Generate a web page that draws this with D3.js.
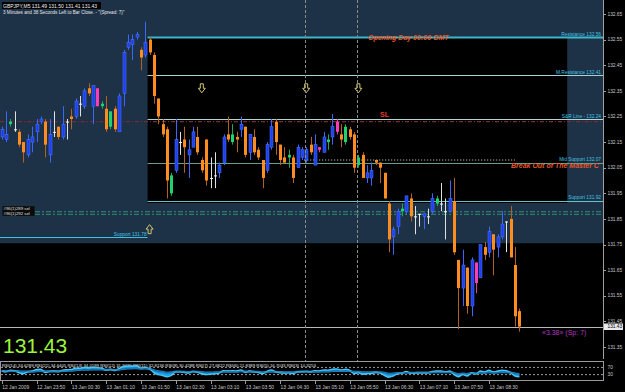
<!DOCTYPE html>
<html>
<head>
<meta charset="utf-8">
<script src="https://cdnjs.cloudflare.com/ajax/libs/d3/7.8.5/d3.min.js"></script>
<style>
body { margin: 0; background: #000; }
svg { display: block; font-family: "Liberation Sans", Arial, sans-serif; }
</style>
</head>
<body>
<div id="chart"></div>
<script>
// GBPJPY M5 candles (bar 0 = 12 Jan 23:10)
var opens = [132.17,132.16,132.22,132.20,132.19,132.15,132.10,132.15,132.19,132.23,
  132.23,132.10,132.19,132.21,132.17,132.23,132.25,132.25,132.30,132.29,
  132.36,132.29,132.29,132.29,132.28,132.21,132.28,132.19,132.34,132.52,
  132.53,132.56,132.51,132.49,132.55,132.49,132.32,132.22,132.20,131.95,
  132.04,132.15,132.16,132.10,132.13,132.17,132.08,132.16,132.01,132.02,
  132.03,132.07,132.18,132.15,132.17,132.20,132.21,132.11,132.17,132.12,
  132.08,132.04,132.13,132.23,132.14,132.09,132.09,132.09,132.05,132.09,
  132.08,132.14,132.06,132.12,132.11,132.15,132.17,132.19,132.18,132.15,
  132.20,132.18,132.06,132.10,132.01,132.01,132.08,132.07,132.03,131.91,
  131.78,131.82,131.88,131.88,131.93,131.86,131.87,131.86,131.86,131.88,
  131.91,131.91,131.88,131.88,131.92,131.69,131.58,131.66,131.51,131.68,
  131.62,131.74,131.72,131.79,131.74,131.78,131.84,131.85,131.67,131.49];
var highs = [132.21,132.27,132.24,132.27,132.20,132.15,132.18,132.21,132.24,132.25,
  132.24,132.24,132.27,132.21,132.29,132.24,132.28,132.32,132.33,132.36,
  132.38,132.37,132.36,132.31,132.33,132.27,132.29,132.34,132.51,132.57,
  132.57,132.58,132.52,132.62,132.56,132.50,132.32,132.24,132.21,132.03,
  132.24,132.19,132.21,132.16,132.21,132.21,132.09,132.16,132.09,132.11,
  132.07,132.18,132.25,132.22,132.19,132.25,132.21,132.18,132.20,132.13,
  132.08,132.15,132.24,132.24,132.14,132.13,132.12,132.10,132.14,132.13,
  132.13,132.17,132.18,132.13,132.19,132.18,132.26,132.24,132.22,132.22,
  132.21,132.19,132.10,132.11,132.06,132.07,132.08,132.07,132.03,131.92,
  131.82,131.89,131.91,131.94,131.95,131.90,131.87,131.87,131.89,131.95,
  131.94,131.99,131.93,132.00,132.01,131.69,131.73,131.66,131.70,131.68,
  131.75,131.76,131.82,131.79,131.79,131.88,131.84,131.90,131.74,131.50];
var lows = [132.16,132.15,132.21,132.19,132.13,132.07,132.09,132.11,132.15,132.22,
  132.09,132.07,132.17,132.16,132.16,132.16,132.20,132.24,132.25,132.28,
  132.33,132.22,132.29,132.28,132.19,132.20,132.19,132.19,132.29,132.51,
  132.47,132.55,132.43,132.48,132.49,132.30,132.22,132.17,131.93,131.94,
  132.03,132.10,132.03,132.01,132.13,132.10,132.03,131.98,131.97,131.97,
  132.01,132.06,132.15,132.14,132.11,132.17,132.09,132.08,132.10,132.08,
  131.97,132.03,132.12,132.10,132.06,132.07,132.05,131.99,132.05,132.08,
  132.07,132.10,132.06,132.11,132.11,132.12,132.14,132.18,132.13,132.14,
  132.16,132.03,132.05,132.01,131.99,131.98,132.06,131.99,131.93,131.72,
  131.71,131.79,131.86,131.87,131.84,131.79,131.82,131.81,131.83,131.87,
  131.90,131.88,131.77,131.88,131.71,131.42,131.51,131.48,131.47,131.56,
  131.62,131.69,131.70,131.63,131.70,131.77,131.72,131.70,131.43,131.41];
var closes = [132.20,132.18,132.23,132.20,132.14,132.11,132.16,132.17,132.22,132.24,
  132.14,132.18,132.19,132.17,132.22,132.23,132.24,132.31,132.30,132.35,
  132.34,132.37,132.36,132.30,132.20,132.27,132.20,132.33,132.50,132.54,
  132.55,132.57,132.48,132.54,132.50,132.33,132.25,132.18,132.00,132.02,
  132.16,132.15,132.13,132.12,132.19,132.11,132.04,132.00,132.01,132.02,
  132.06,132.17,132.16,132.18,132.16,132.22,132.10,132.18,132.11,132.09,
  132.01,132.14,132.21,132.15,132.08,132.07,132.10,132.01,132.13,132.12,
  132.12,132.11,132.14,132.13,132.17,132.16,132.21,132.23,132.16,132.21,
  132.17,132.05,132.09,132.01,132.03,132.04,132.07,132.05,131.93,131.77,
  131.81,131.88,131.89,131.94,131.86,131.86,131.87,131.87,131.86,131.93,
  131.93,131.91,131.88,131.93,131.72,131.58,131.67,131.51,131.69,131.60,
  131.75,131.71,131.80,131.73,131.78,131.83,131.84,131.70,131.47,131.43];
// bars painted green / magenta by the signal indicator
var greenBars = [2,23,25,39,53,66,75,79,82,92,100];
var pinkBars = [22,73,77,109];

// RSI sub-window (fast and slow lines)
var rsiFast = [50,45,55,52,40,35,45,50,58,60, 42,48,50,47,55,57,58,66,65,70,
  68,70,69,66,55,60,52,65,75,78, 78,79,65,70,62,40,30,25,18,25,
  45,45,42,38,48,42,35,30,32,34, 38,52,50,52,50,56,42,50,45,42,
  35,48,56,45,40,38,40,35,46,48, 48,46,52,50,56,55,60,62,56,60,
  55,35,40,32,35,36,42,38,25,15, 22,35,38,48,38,38,40,40,40,48,
  50,50,45,50,30,18,30,22,40,33, 50,45,55,45,50,55,52,40,22,18];
var rsiSlow = [50,49,50,50,48,46,46,47,49,50, 48,48,48,48,50,51,52,55,56,58,
  58,59,59,59,56,57,55,58,62,64, 65,66,63,64,62,54,48,45,40,42,
  46,46,45,44,46,45,43,41,41,42, 43,47,47,47,47,49,46,47,46,45,
  43,45,47,45,44,43,43,42,45,45, 46,45,47,47,48,48,50,51,50,51,
  50,45,45,43,43,43,44,43,40,34, 35,38,39,42,40,40,41,41,41,43,
  44,44,43,44,39,33,36,33,38,37, 41,40,43,41,42,44,44,41,35,33];
var rsiLevels = [70, 30];

// horizontal levels drawn by the pivot indicator
var levelNames = ["Resistance", "M.Resistance", "S&R Line -", "Mid Support", "Support"];
var levelValues = [132.56, 132.41, 132.24, 132.07, 131.92];
var prevSupport = 131.78;
var slLevel = 132.23;
var breakLevel = 132.08;
var zoneBottom = 131.755;
var orderPrices = [131.878, 131.868];
var orderNames = ["#96(1)289 sel", "#96(1)292 sel"];
var downArrows = [46, 70, 82];
var upArrows = [34];
var sessionBars = [70, 82];

// axis labels
var priceTicks = [132.65,132.55,132.45,132.35,132.25,132.15,132.05,131.95,131.85,131.75,131.65,131.55,131.45,131.35];
var timeLabels = ["12 Jan 2009","12 Jan 23:50","13 Jan 00:30","13 Jan 01:10","13 Jan 01:50","13 Jan 02:30",
  "13 Jan 03:10","13 Jan 03:50","13 Jan 04:30","13 Jan 05:10","13 Jan 05:50","13 Jan 06:30",
  "13 Jan 07:10","13 Jan 07:50","13 Jan 08:30"];
var lastPrice = 131.43;

var width = 625, height = 392, plotRight = 603;

var svg = d3.select("#chart").append("svg")
    .attr("width", width)
    .attr("height", height);

svg.append("rect").attr("width", width).attr("height", height).attr("fill", "#000");

var x = d3.scaleLinear().domain([0, 119]).range([1.7, 519.35]);
var y = d3.scaleLinear().domain([132.65, 131.35]).range([14, 347]);
var yRsi = d3.scaleLinear().domain([0, 100]).range([380, 362]);

svg.append("clipPath").attr("id", "plot")
  .append("rect").attr("x", 0).attr("y", 0).attr("width", plotRight).attr("height", 359);

var main = svg.append("g").attr("clip-path", "url(#plot)");

//zones: blue area with the black day box on top
var zoneLeft = x(34) - 2;
main.append("rect")
    .attr("x", 0).attr("y", 0)
    .attr("width", plotRight).attr("height", y(zoneBottom))
    .attr("fill", "#1d3147");
main.append("rect")
    .attr("x", zoneLeft).attr("y", y(levelValues[0]))
    .attr("width", x(130) - zoneLeft)
    .attr("height", y(levelValues[4]) - y(levelValues[0]) + 2)
    .attr("fill", "#000");

//level lines
var levelColors = ["#3cb8cc", "#a4d4d4", "#a8d8d8", "#6c9c8a", "#62c6c8"];
main.selectAll(".level")
    .data(levelValues)
    .enter().append("line")
    .attr("x1", zoneLeft).attr("x2", plotRight)
    .attr("y1", function(d){ return Math.round(y(d)) + 0.5; })
    .attr("y2", function(d){ return Math.round(y(d)) + 0.5; })
    .attr("stroke", function(d, i){ return levelColors[i]; })
    .attr("stroke-width", function(d, i){ return i == 0 ? 2 : 1; });

main.selectAll(".levelLabel")
    .data(levelValues)
    .enter().append("text")
    .attr("x", plotRight - 2)
    .attr("y", function(d){ return y(d) - 1.5; })
    .attr("text-anchor", "end")
    .attr("font-size", 4.8)
    .attr("fill", "#45c4e4")
    .text(function(d, i){ return levelNames[i] + " " + d.toFixed(2); });

main.append("line")
    .attr("x1", 0).attr("x2", zoneLeft)
    .attr("y1", Math.round(y(prevSupport)) + 0.5).attr("y2", Math.round(y(prevSupport)) + 0.5)
    .attr("stroke", "#3ec2e2");
main.append("text")
    .attr("x", zoneLeft - 1).attr("y", y(prevSupport) - 1)
    .attr("text-anchor", "end").attr("font-size", 4.8).attr("fill", "#45c4e4")
    .text("Support " + prevSupport.toFixed(2));

//SL line
main.append("line")
    .attr("x1", 0).attr("x2", plotRight)
    .attr("y1", y(slLevel)).attr("y2", y(slLevel))
    .attr("stroke", "#7e2a2a").attr("stroke-width", 1.3)
    .attr("stroke-dasharray", "4,2,1,2");

//order lines
orderPrices.forEach(function(p, k){
    main.append("line")
        .attr("x1", 35).attr("x2", plotRight)
        .attr("y1", y(p)).attr("y2", y(p))
        .attr("stroke", "#2f8f7a").attr("stroke-width", 1)
        .attr("stroke-dasharray", "5,2,2,2");
    main.append("rect")
        .attr("x", 2.5).attr("y", y(p) - 4.5 - (k == 0 ? 1 : -1))
        .attr("width", 32).attr("height", 5)
        .attr("fill", "#0a0a0a");
    main.append("text")
        .attr("x", 3.5).attr("y", y(p) - 0.5 - (k == 0 ? 1 : -1))
        .attr("font-size", 4.3).attr("fill", "#e0e0e0")
        .text(orderNames[k]);
});

//break-out dotted line
main.append("line")
    .attr("x1", x(70) - 2).attr("x2", x(118))
    .attr("y1", y(breakLevel)).attr("y2", y(breakLevel))
    .attr("stroke", "#d8d8d8").attr("stroke-dasharray", "1,2");

//current price line
main.append("line")
    .attr("x1", 0).attr("x2", plotRight)
    .attr("y1", Math.round(y(lastPrice)) + 0.5).attr("y2", Math.round(y(lastPrice)) + 0.5)
    .attr("stroke", "#b8b8b8");

//session lines
svg.selectAll(".session")
    .data(sessionBars)
    .enter().append("line")
    .attr("x1", function(d){ return Math.round(x(d)) - 0.5; })
    .attr("x2", function(d){ return Math.round(x(d)) - 0.5; })
    .attr("y1", 0).attr("y2", 381)
    .attr("stroke", "#8a8a8a")
    .attr("stroke-dasharray", "3,2");

//candles
var bars = opens.map(function(o, i){
    return {i: i, o: o, h: highs[i], l: lows[i], c: closes[i]};
});
function kind(d){
    if (greenBars.indexOf(d.i) >= 0) return "green";
    if (pinkBars.indexOf(d.i) >= 0) return "pink";
    if (d.c > d.o) return "up";
    if (d.c < d.o) return "down";
    return "doji";
}
var bodyFill = {up: "#1f3ff0", down: "#ff8c1e", doji: "#f4f4f4", green: "#1ed26c", pink: "#ff3cb8"};
var wickColor = {up: "#3a68ff", down: "#b4601e", doji: "#e0e0e0", green: "#1aa85a", pink: "#d8409c"};

var candles = main.selectAll(".candle")
    .data(bars)
    .enter().append("g");

candles.append("line")
    .attr("x1", function(d){ return Math.round(x(d.i)) + 0.5; })
    .attr("x2", function(d){ return Math.round(x(d.i)) + 0.5; })
    .attr("y1", function(d){ return y(d.h); })
    .attr("y2", function(d){ return y(d.l); })
    .attr("stroke", function(d){ return wickColor[kind(d)]; });

candles.append("rect")
    .attr("x", function(d){ return Math.round(x(d.i)) - 1; })
    .attr("width", 3)
    .attr("y", function(d){ return y(Math.max(d.o, d.c)); })
    .attr("height", function(d){ return Math.max(1, Math.abs(y(d.o) - y(d.c))); })
    .attr("fill", function(d){ return bodyFill[kind(d)]; })
    .attr("stroke", function(d){ return kind(d) == "up" ? "#4a78ff" : "none"; })
    .attr("stroke-width", 0.5);

//arrows
var downPath = "M-1.5,-4.5H1.5V0H3.5L0,4.5L-3.5,0H-1.5Z";
main.selectAll(".down")
    .data(downArrows)
    .enter().append("path")
    .attr("d", downPath)
    .attr("transform", function(d){ return "translate(" + x(d) + "," + y(132.36) + ")"; })
    .attr("fill", "none").attr("stroke", "#d6c870");
main.selectAll(".up")
    .data(upArrows)
    .enter().append("path")
    .attr("d", downPath)
    .attr("transform", function(d){ return "translate(" + x(d) + "," + y(131.81) + ") rotate(180)"; })
    .attr("fill", "none").attr("stroke", "#d6c870");

//annotations
main.append("text")
    .attr("x", 368).attr("y", 39.5)
    .attr("font-size", 7).attr("font-weight", "bold").attr("font-style", "italic")
    .attr("fill", "#e8582a")
    .text("Opening Day 00:00 GMT");
main.append("text")
    .attr("x", 380).attr("y", 117)
    .attr("font-size", 7).attr("font-weight", "bold")
    .attr("fill", "#e8382a")
    .text("SL");
// only the part left of the price axis shows
main.append("text")
    .attr("x", 511).attr("y", 168)
    .attr("font-size", 7).attr("font-weight", "bold").attr("font-style", "italic")
    .attr("fill", "#e8582a")
    .text("Break Out of The Master C");
main.append("text")
    .attr("x", 542).attr("y", 335)
    .attr("font-size", 7)
    .attr("fill", "#b438c4")
    .text("\u00ab3.38\u00bb (Sp: 7)");

main.append("text")
    .attr("x", 3).attr("y", 353)
    .attr("font-size", 21)
    .attr("fill", "#9cf43c")
    .text(lastPrice.toFixed(2));

//info header
svg.append("rect").attr("x", 2).attr("y", 2).attr("width", 99).attr("height", 7).attr("fill", "#000");
svg.append("text")
    .attr("x", 3).attr("y", 7.8)
    .attr("font-size", 5).attr("fill", "#f0f0f0")
    .text("GBPJPY,M5  131.49 131.50 131.41 131.43");
svg.append("text")
    .attr("x", 3).attr("y", 13.5)
    .attr("font-size", 4.6).attr("fill", "#e8e8e8")
    .text("3 Minutes and 38 Seconds Left to Bar Close. - \"(Spread: 7)\"");

//right price axis
svg.append("line")
    .attr("x1", plotRight + 0.5).attr("x2", plotRight + 0.5)
    .attr("y1", 0).attr("y2", 359)
    .attr("stroke", "#a0a0a0");
svg.selectAll(".ptick")
    .data(priceTicks)
    .enter().append("line")
    .attr("x1", plotRight).attr("x2", plotRight + 3)
    .attr("y1", function(d){ return Math.round(y(d)) + 0.5; })
    .attr("y2", function(d){ return Math.round(y(d)) + 0.5; })
    .attr("stroke", "#a0a0a0");
svg.selectAll(".plabel")
    .data(priceTicks)
    .enter().append("text")
    .attr("x", plotRight + 4.5)
    .attr("y", function(d){ return y(d) + 1.7; })
    .attr("font-size", 4.8)
    .attr("fill", "#c8c8c8")
    .text(function(d){ return d.toFixed(2); });
svg.append("rect")
    .attr("x", plotRight + 1).attr("y", y(lastPrice) - 3)
    .attr("width", 19).attr("height", 6.5)
    .attr("fill", "#e8e8e8");
svg.append("text")
    .attr("x", plotRight + 4.5).attr("y", y(lastPrice) + 1.8)
    .attr("font-size", 4.8).attr("fill", "#000")
    .text(lastPrice.toFixed(2));

//RSI window
svg.append("rect")
    .attr("x", 0.5).attr("y", 361.5)
    .attr("width", plotRight).attr("height", 19)
    .attr("fill", "#000").attr("stroke", "#9a9a9a");
svg.selectAll(".rlevel")
    .data(rsiLevels)
    .enter().append("line")
    .attr("x1", 1).attr("x2", plotRight)
    .attr("y1", function(d){ return yRsi(d); })
    .attr("y2", function(d){ return yRsi(d); })
    .attr("stroke", "#9a9a9a").attr("stroke-dasharray", "2,2");
svg.selectAll(".rlabel")
    .data(rsiLevels)
    .enter().append("text")
    .attr("x", plotRight + 4.5)
    .attr("y", function(d){ return yRsi(d) + 1.7; })
    .attr("font-size", 4.8).attr("fill", "#c8c8c8")
    .text(function(d){ return d; });

svg.append("text")
    .attr("x", 2).attr("y", 367)
    .attr("font-size", 4.3).attr("fill", "#e0e0e0")
    .text("RSI(14) 34.6289  RSI(21) 34.6405  RSI(13) 34.0189  RSI(12) 31.9430  RSI(11) 32.8136  RSI(8) 30.4288  RSI(7) 27.6822  RSI(6) 21.8389  RSI(5) 16.7033  RSI(3) 10.3253");

var band = d3.area()
    .x(function(d, i){ return x(i); })
    .y0(function(d, i){ return yRsi(rsiSlow[i]); })
    .y1(function(d){ return yRsi(d); })
    .curve(d3.curveMonotoneX);
var rsiLine = d3.line()
    .x(function(d, i){ return x(i); })
    .y(function(d){ return yRsi(d); })
    .curve(d3.curveMonotoneX);

svg.append("path").datum(rsiFast).attr("d", band).attr("fill", "#1aa2e6");
svg.append("path").datum(rsiSlow).attr("d", rsiLine)
    .attr("fill", "none").attr("stroke", "#1e8cd0").attr("stroke-width", 2.2);
svg.append("path").datum(rsiFast).attr("d", rsiLine)
    .attr("fill", "none").attr("stroke", "#4cc6f6").attr("stroke-width", 1.4);
svg.append("path").datum(rsiSlow).attr("d", rsiLine)
    .attr("fill", "none").attr("stroke", "#0c5a8c").attr("stroke-width", 0.6);

//time axis
svg.selectAll(".tlabel")
    .data(timeLabels)
    .enter().append("text")
    .attr("x", function(d, i){ return x(i * 8) + 0.5; })
    .attr("y", 389)
    .attr("font-size", 4.9)
    .attr("fill", "#c8c8c8")
    .text(function(d){ return d; });
svg.selectAll(".ttick")
    .data(timeLabels)
    .enter().append("line")
    .attr("x1", function(d, i){ return Math.round(x(i * 8)) + 0.5; })
    .attr("x2", function(d, i){ return Math.round(x(i * 8)) + 0.5; })
    .attr("y1", 381).attr("y2", 384)
    .attr("stroke", "#9a9a9a");
</script>
</body>
</html>
